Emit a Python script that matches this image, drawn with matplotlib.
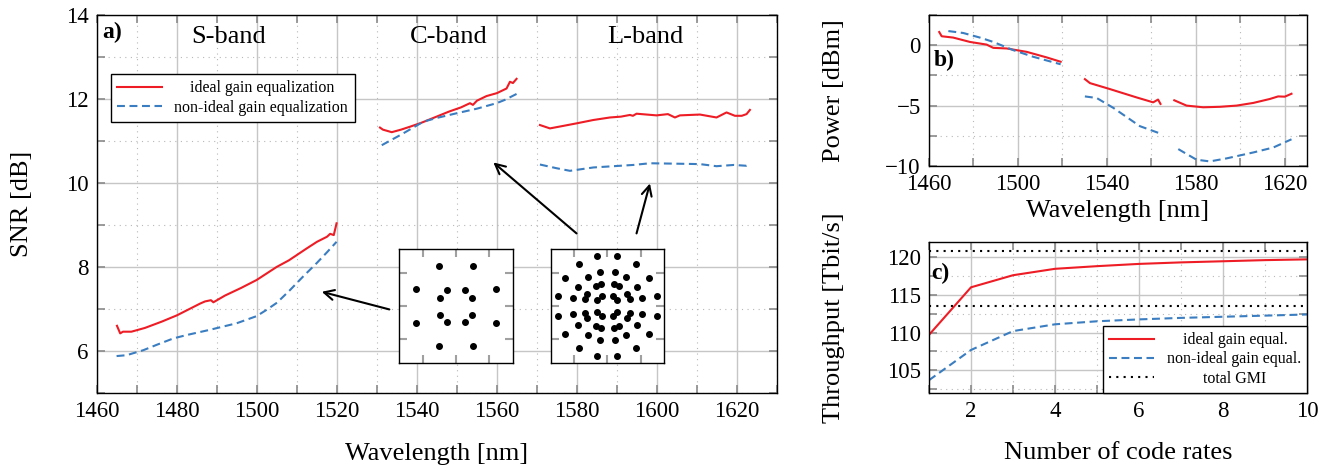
# SNR per band, launch power and throughput vs number of code rates

import matplotlib.pyplot as plt
from matplotlib.ticker import MultipleLocator, FixedLocator

RED = '#ee1c25'
BLUE = '#3a7dc0'

# a) SNR [dB], ideal gain equalization
wl_s = [1465.0, 1465.8, 1466.5, 1468.6, 1472.0, 1476.2, 1480.0, 1485.8, 1487.0, 1488.5,
        1489.1, 1492.0, 1496.0, 1499.9, 1502.0, 1504.9, 1508.0, 1512.4, 1515.0, 1517.5,
        1518.3, 1519.2, 1519.9]
snr_s = [6.60, 6.42, 6.46, 6.46, 6.55, 6.70, 6.85, 7.13, 7.18, 7.21,
         7.16, 7.32, 7.50, 7.69, 7.82, 8.00, 8.16, 8.44, 8.60, 8.72,
         8.79, 8.76, 9.04]
wl_c = [1530.75, 1531.5, 1533.7, 1536.0, 1538.25, 1541.0, 1544.9, 1548.0, 1551.0, 1553.25,
        1554.0, 1555.0, 1557.4, 1560.0, 1562.4, 1563.25, 1564.0, 1564.9]
snr_c = [11.32, 11.27, 11.21, 11.27, 11.34, 11.43, 11.58, 11.70, 11.80, 11.90,
         11.86, 11.96, 12.07, 12.14, 12.25, 12.41, 12.38, 12.48]
wl_l = [1570.75, 1572.0, 1573.25, 1576.6, 1579.9, 1584.1, 1588.25, 1591.0, 1593.25, 1594.0,
        1594.9, 1599.9, 1602.75, 1604.5, 1605.75, 1610.75, 1614.9, 1617.4, 1619.5, 1621.2,
        1622.4, 1623.25]
snr_l = [11.38, 11.34, 11.30, 11.36, 11.42, 11.50, 11.56, 11.58, 11.62, 11.60,
         11.65, 11.61, 11.64, 11.56, 11.61, 11.63, 11.56, 11.68, 11.60, 11.60,
         11.64, 11.74]

# a) SNR [dB], non-ideal gain equalization
wl_s_n = [1464.9, 1467.4, 1471.6, 1475.0, 1479.1, 1482.4, 1488.0, 1494.9, 1499.9, 1502.4,
          1505.0, 1508.25, 1511.5, 1514.9, 1517.5, 1519.9]
snr_s_n = [5.88, 5.90, 6.02, 6.15, 6.30, 6.38, 6.50, 6.66, 6.83, 6.98,
           7.15, 7.45, 7.77, 8.09, 8.35, 8.60]
wl_c_n = [1531.2, 1536.0, 1541.6, 1545.0, 1549.9, 1555.0, 1559.9, 1562.0, 1564.9]
snr_c_n = [10.90, 11.15, 11.46, 11.55, 11.66, 11.77, 11.90, 11.98, 12.12]
wl_l_n = [1570.75, 1575.0, 1578.25, 1584.1, 1594.1, 1598.25, 1604.75, 1610.75, 1614.9, 1619.25,
          1622.4, 1623.25]
snr_l_n = [10.44, 10.35, 10.29, 10.37, 10.43, 10.47, 10.46, 10.45, 10.40, 10.43,
           10.41, 10.44]

band_names = ['S-band', 'C-band', 'L-band']
band_centers = [1493, 1548, 1597]

# b) launch power [dBm]
pw_wl_1 = [1464.6, 1465.7, 1470.9, 1478.4, 1485.9, 1488.9, 1494.9, 1503.9, 1512.9, 1519.2]
pw_1 = [1.09, 0.74, 0.63, 0.27, 0.05, -0.22, -0.27, -0.55, -1.01, -1.37]
pw_wl_2 = [1530.1, 1532.4, 1541.3, 1553.3, 1560.8, 1563.0, 1564.1]
pw_2 = [-2.81, -3.14, -3.63, -4.32, -4.73, -4.50, -4.86]
pw_wl_3 = [1570.3, 1575.8, 1583.3, 1590.8, 1598.3, 1605.8, 1613.3, 1617.0, 1620.0, 1623.0]
pw_3 = [-4.56, -5.00, -5.14, -5.10, -5.00, -4.78, -4.45, -4.24, -4.26, -4.02]
pw_wl_1n = [1468.7, 1475.4, 1482.9, 1488.9, 1497.9, 1506.9, 1519.2]
pw_1n = [1.17, 1.01, 0.63, 0.27, -0.41, -0.96, -1.58]
pw_wl_2n = [1530.1, 1535.4, 1542.9, 1554.8, 1563.8]
pw_2n = [-4.24, -4.37, -5.19, -6.70, -7.30]
pw_wl_3n = [1572.1, 1575.8, 1580.3, 1586.3, 1593.8, 1605.8, 1614.8, 1623.0]
pw_3n = [-8.60, -9.00, -9.48, -9.62, -9.37, -8.88, -8.47, -7.79]

# c) throughput [Tbit/s]
n_rates = [1, 2, 3, 4, 5, 6, 7, 8, 9, 10]
tp_ideal = [109.7, 116.0, 117.6, 118.45, 118.8, 119.1, 119.3, 119.45, 119.6, 119.7]
tp_nonideal = [103.7, 107.7, 110.2, 111.1, 111.5, 111.75, 111.95, 112.1, 112.25, 112.4]
gmi_levels = [120.8, 113.5]

# constellations of the insets
qam16_i = [-0.5, 0.5, -1.2, 1.2, -0.26, 0.26, -0.47, 0.47,
           -0.47, 0.47, -0.26, 0.26, -1.2, 1.2, -0.5, 0.5]
qam16_q = [1.2, 1.2, 0.5, 0.5, 0.47, 0.47, 0.25, 0.25,
           -0.26, -0.26, -0.47, -0.47, -0.5, -0.5, -1.2, -1.2]
qam64_i = [-0.3, 0.3, -0.85, 0.85, -0.22, 0.22, -1.26, 1.26, -0.57, 0.57,
           -0.35, 0.35, -0.2, 0.2, -0.88, 0.88, -0.6, 0.6, -1.49, 1.49,
           -1.03, 1.03, -0.67, 0.67, -0.3, 0.3, -0.16, 0.16,
           -0.3, 0.3, -0.85, 0.85, -0.22, 0.22, -1.26, 1.26, -0.57, 0.57,
           -0.35, 0.35, -0.2, 0.2, -0.88, 0.88, -0.6, 0.6, -1.49, 1.49,
           -1.03, 1.03, -0.67, 0.67, -0.3, 0.3, -0.16, 0.16]
qam64_q = [1.49, 1.49, 1.26, 1.26, 1.03, 1.03, 0.85, 0.85, 0.88, 0.88,
           0.6, 0.6, 0.67, 0.67, 0.57, 0.57, 0.35, 0.35, 0.3, 0.3,
           0.23, 0.23, 0.2, 0.2, 0.17, 0.17, 0.3, 0.3,
           -1.49, -1.49, -1.26, -1.26, -1.03, -1.03, -0.85, -0.85, -0.88, -0.88,
           -0.6, -0.6, -0.67, -0.67, -0.57, -0.57, -0.35, -0.35, -0.3, -0.3,
           -0.23, -0.23, -0.2, -0.2, -0.17, -0.17, -0.3, -0.3]

plt.rcParams['font.family'] = 'serif'
plt.rcParams['font.serif'] = ['Liberation Serif', 'DejaVu Serif']
plt.rcParams['mathtext.fontset'] = 'stix'

TICK_SIZE = 16.5
LABEL_SIZE = 19
LEG_SIZE = 11.5


def style_axes(ax):
    ax.grid(which='major', color='#c6c6c6', lw=1.0, ls='-')
    ax.grid(which='minor', color='#b8b8b8', lw=0.8, ls=(0, (1, 4)))
    ax.set_axisbelow(True)
    ax.tick_params(which='both', direction='in', top=True, right=True,
                   color='#8a8a8a', width=1.2, length=6,
                   labelsize=TICK_SIZE, labelcolor='black', pad=6)
    for s in ax.spines.values():
        s.set_linewidth(1.0)


def main():
    fig = plt.figure(figsize=(13.34, 4.70), dpi=100)

    # ---- a) SNR
    ax = fig.add_axes([0.0727, 0.1638, 0.5097, 0.8043])
    ax.plot(wl_s, snr_s, color=RED, lw=1.5, label='ideal gain equalization')
    ax.plot(wl_c, snr_c, color=RED, lw=1.5)
    ax.plot(wl_l, snr_l, color=RED, lw=1.5)
    ax.plot(wl_s_n, snr_s_n, color=BLUE, lw=1.5, ls=(0, (3.8, 2.2)),
            label='non-ideal gain equalization')
    ax.plot(wl_c_n, snr_c_n, color=BLUE, lw=1.5, ls=(0, (3.8, 2.2)))
    ax.plot(wl_l_n, snr_l_n, color=BLUE, lw=1.5, ls=(0, (3.8, 2.2)))
    ax.set_xlim(1460, 1630)
    ax.set_ylim(5, 14)
    ax.xaxis.set_major_locator(MultipleLocator(20))
    ax.xaxis.set_minor_locator(MultipleLocator(10))
    ax.yaxis.set_major_locator(MultipleLocator(2))
    ax.yaxis.set_minor_locator(MultipleLocator(1))
    style_axes(ax)
    ax.set_xlabel('Wavelength [nm]', fontsize=LABEL_SIZE)
    ax.set_ylabel('SNR [dB]', fontsize=LABEL_SIZE)
    ax.xaxis.set_label_coords(0.5, -0.132)
    ax.yaxis.set_label_coords(-0.094, 0.5)
    for name, c in zip(band_names, band_centers):
        ax.text(c, 13.48, name, fontsize=LABEL_SIZE, ha='center', va='center')
    ax.text(0.008, 0.954, 'a)', transform=ax.transAxes, fontsize=17,
            fontweight='bold', ha='left', va='center')
    leg = ax.legend(loc='upper left', bbox_to_anchor=(0.02, 0.844), borderaxespad=0,
                    fontsize=LEG_SIZE, fancybox=False, edgecolor='black',
                    framealpha=1, handlelength=2.8, labelspacing=0.2)
    leg.get_frame().set_linewidth(1.0)
    leg.get_texts()[0].set_text('    ideal gain equalization')

    # arrows from the insets to the curves
    arr = dict(arrowstyle='->', lw=1.5, color='black', shrinkA=0, shrinkB=0,
               mutation_scale=18)
    ax.annotate('', xy=(1516.2, 7.41), xytext=(1533.1, 6.99), arrowprops=arr)
    ax.annotate('', xy=(1559.1, 10.49), xytext=(1579.9, 8.80), arrowprops=arr)
    ax.annotate('', xy=(1598.25, 9.99), xytext=(1594.9, 8.80), arrowprops=arr)

    # constellation insets
    for left, ci, cq in [(0.2993, qam16_i, qam16_q), (0.4128, qam64_i, qam64_q)]:
        ins = fig.add_axes([left, 0.2283, 0.085, 0.2413])
        ins.plot(ci, cq, 'o', color='black', ms=4)
        ins.set_xlim(-1.7, 1.7)
        ins.set_ylim(-1.7, 1.7)
        ins.set_xticks([-1, 0, 1])
        ins.set_yticks([-1, 0, 1])
        ins.tick_params(direction='in', top=True, right=True, length=6, width=1.5,
                        color='#a0a0a0', labelbottom=False, labelleft=False)
        for s in ins.spines.values():
            s.set_linewidth(1.0)

    # ---- b) power
    bx = fig.add_axes([0.6964, 0.6468, 0.2834, 0.3213])
    bx.plot(pw_wl_1, pw_1, color=RED, lw=1.5)
    bx.plot(pw_wl_2, pw_2, color=RED, lw=1.5)
    bx.plot(pw_wl_3, pw_3, color=RED, lw=1.5)
    bx.plot(pw_wl_1n, pw_1n, color=BLUE, lw=1.5, ls=(0, (3.8, 2.2)))
    bx.plot(pw_wl_2n, pw_2n, color=BLUE, lw=1.5, ls=(0, (3.8, 2.2)))
    bx.plot(pw_wl_3n, pw_3n, color=BLUE, lw=1.5, ls=(0, (3.8, 2.2)))
    bx.set_xlim(1460, 1630)
    bx.set_ylim(-10, 2.5)
    bx.xaxis.set_major_locator(FixedLocator([1460, 1500, 1540, 1580, 1620]))
    bx.xaxis.set_minor_locator(FixedLocator([1480, 1520, 1560, 1600]))
    bx.yaxis.set_major_locator(MultipleLocator(5))
    bx.yaxis.set_minor_locator(MultipleLocator(2.5))
    style_axes(bx)
    bx.set_xlabel('Wavelength [nm]', fontsize=LABEL_SIZE)
    bx.set_ylabel('Power [dBm]', fontsize=LABEL_SIZE)
    bx.xaxis.set_label_coords(0.5, -0.225)
    bx.yaxis.set_label_coords(-0.222, 0.5)
    bx.text(0.012, 0.70, 'b)', transform=bx.transAxes, fontsize=17,
            fontweight='bold', ha='left', va='center')

    # ---- c) throughput
    cx = fig.add_axes([0.6964, 0.1638, 0.2834, 0.3213])
    cx.plot(n_rates, tp_ideal, color=RED, lw=1.5, label='    ideal gain equal.')
    cx.plot(n_rates, tp_nonideal, color=BLUE, lw=1.5, ls=(0, (3.8, 2.2)),
            label='non-ideal gain equal.')
    for i, g in enumerate(gmi_levels):
        cx.axhline(g, color='black', lw=1.5, ls=(0, (1, 2.5)),
                   label='         total GMI' if i == 0 else None)
    cx.set_xlim(1, 10)
    cx.set_ylim(102, 122)
    cx.xaxis.set_major_locator(MultipleLocator(2))
    cx.xaxis.set_minor_locator(MultipleLocator(1))
    cx.yaxis.set_major_locator(MultipleLocator(5))
    cx.yaxis.set_minor_locator(MultipleLocator(2.5))
    style_axes(cx)
    cx.set_xlabel('Number of code rates', fontsize=LABEL_SIZE)
    cx.set_ylabel('Throughput [Tbit/s]', fontsize=LABEL_SIZE)
    cx.xaxis.set_label_coords(0.5, -0.325)
    cx.yaxis.set_label_coords(-0.222, 0.5)
    cx.text(0.006, 0.79, 'c)', transform=cx.transAxes, fontsize=17,
            fontweight='bold', ha='left', va='center')
    leg2 = cx.legend(loc='lower right', bbox_to_anchor=(1, 0), borderaxespad=0,
                     fontsize=LEG_SIZE, fancybox=False, edgecolor='black',
                     framealpha=1, handlelength=2.8, labelspacing=0.2)
    leg2.get_frame().set_linewidth(1.0)

    fig.savefig('out.png', dpi=100)


if __name__ == '__main__':
    main()
